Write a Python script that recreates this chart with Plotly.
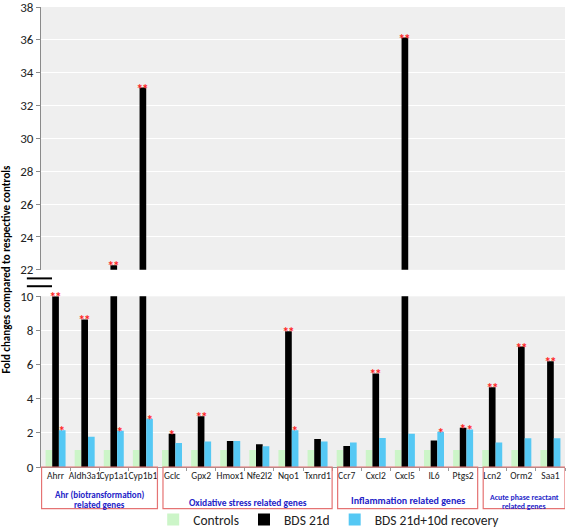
import plotly.graph_objects as go

categories = ["Ahrr", "Aldh3a1", "Cyp1a1", "Cyp1b1", "Gclc", "Gpx2", "Hmox1", "Nfe2l2",
              "Nqo1", "Txnrd1", "Ccr7", "Cxcl2", "Cxcl5", "IL6", "Ptgs2", "Lcn2", "Orm2", "Saa1"]
controls = [1.0, 1.0, 1.0, 1.0, 1.0, 1.0, 1.0, 1.0, 1.0, 1.0, 1.0, 1.0, 1.0, 1.0, 1.0, 1.0, 1.0, 1.0]
bds_21d = [10.0, 8.65, 22.28, 33.1, 1.95, 2.98, 1.52, 1.34, 7.95, 1.64, 1.23, 5.48, 36.14, 1.56, 2.3, 4.68, 7.06, 6.2]
bds_recovery = [2.16, 1.77, 2.12, 2.82, 1.4, 1.5, 1.52, 1.21, 2.16, 1.5, 1.44, 1.7, 1.95, 2.06, 2.2, 1.44, 1.68, 1.68]
sig_21d = ["**", "**", "**", "**", "*", "**", "", "", "**", "", "", "**", "**", "", "*", "**", "**", "**"]
sig_recovery = ["*", "", "*", "*", "", "", "", "", "*", "", "", "", "", "*", "*", "", "", ""]

group_names = [["Ahr (biotransformation)", "related genes"],
               ["Oxidative stress related genes"],
               ["Inflammation related genes"],
               ["Acute phase reactant", "related genes"]]
group_first = [0, 4, 10, 15]
group_last = [3, 9, 14, 17]

series_names = ["Controls", "BDS 21d", "BDS 21d+10d recovery"]
series_values = [controls, bds_21d, bds_recovery]
series_colors = ["#ccf5c8", "#000000", "#55c8f4"]

FONT = "Carlito, Liberation Sans Narrow, Lato"
LOW_MAX = 10
HIGH_MIN, HIGH_MAX = 22, 38

fig = go.Figure()
for name, vals, col in zip(series_names, series_values, series_colors):
    fig.add_trace(go.Bar(x=categories, y=vals, name=name, marker_color=col,
                         marker_line_width=0, legendgroup=name, yaxis="y"))
for name, vals, col in zip(series_names, series_values, series_colors):
    fig.add_trace(go.Bar(x=categories, y=vals, name=name, marker_color=col,
                         marker_line_width=0, legendgroup=name, showlegend=False, yaxis="y2"))

BAR_W = 0.229
STAR_FONT = dict(color="#ff2020", size=13, family="Lato")
annotations = []
for i, (v, s) in enumerate(zip(bds_21d, sig_21d)):
    if not s:
        continue
    if LOW_MAX < v < HIGH_MIN:
        continue
    yref = "y2" if v >= HIGH_MIN else "y"
    annotations.append(dict(x=i, y=v, xref="x", yref=yref, text="<b>" + s + "</b>", showarrow=False,
                            font=STAR_FONT, yanchor="middle", yshift=-1))
for i, (v, s) in enumerate(zip(bds_recovery, sig_recovery)):
    if not s:
        continue
    annotations.append(dict(x=i + BAR_W, y=v, xref="x", yref="y", text="<b>" + s + "</b>", showarrow=False,
                            font=STAR_FONT, yanchor="middle", yshift=-1))

# group boxes and labels
shapes = []
box_bottom = -0.0905
label_sizes = [9, 9.5, 10, 7.8]
label_ys = [[-0.0591, -0.0823], [-0.0786], [-0.073], [-0.0656, -0.0859]]
for k, (names, a, b) in enumerate(zip(group_names, group_first, group_last)):
    x0 = a - 0.48 if k == 0 else a - 0.31
    x1 = b + 0.5
    shapes.append(dict(type="rect", xref="x", yref="paper", x0=x0, x1=x1, y0=box_bottom, y1=0,
                       line=dict(color="#e57373", width=1.2), fillcolor="rgba(0,0,0,0)", layer="above"))
    xc = (x0 + x1) / 2
    for line, yy in zip(names, label_ys[k]):
        annotations.append(dict(x=xc, y=yy, xref="x", yref="paper", text="<b>" + line + "</b>",
                                showarrow=False, yanchor="middle", xanchor="center",
                                font=dict(color="#2424c8", size=label_sizes[k], family=FONT)))

# axis break marks
for yy in [0.41, 0.393]:
    shapes.append(dict(type="line", xref="paper", yref="paper", x0=-0.027, x1=0.021, y0=yy, y1=yy,
                       line=dict(color="black", width=2)))

annotations.append(dict(x=-0.066, y=0.43, xref="paper", yref="paper", xanchor="center", yanchor="middle",
                        text="<b>Fold changes compared to respective controls</b>", textangle=-90,
                        showarrow=False, font=dict(size=11, color="black", family=FONT)))

yaxis_common = dict(dtick=2, gridcolor="#ffffff", gridwidth=1, showline=True, linecolor="#8a8a8a",
                    ticks="outside", ticklen=4, tickcolor="#8a8a8a", zeroline=False, automargin=False,
                    ticklabeloverflow="allow",
                    tickfont=dict(size=13, color="#222", family=FONT))

fig.update_layout(
    width=567, height=528,
    margin=dict(l=41, r=2, t=7, b=61, autoexpand=False),
    paper_bgcolor="white", plot_bgcolor="#efefef",
    barmode="group", bargap=0.313, bargroupgap=0,
    xaxis=dict(type="category", categoryorder="array", categoryarray=categories,
               range=[-0.5, len(categories) - 0.5], tickson="boundaries", ticks="outside",
               ticklen=3, tickcolor="#9a9a9a", showline=True, linecolor="#9a9a9a",
               showgrid=False, anchor="y", tickangle=0, automargin=False,
               tickfont=dict(size=9.5, color="#222", family=FONT)),
    yaxis=dict(domain=[0, 0.371], range=[0, LOW_MAX], anchor="x", **yaxis_common),
    yaxis2=dict(domain=[0.4286, 1], range=[HIGH_MIN, HIGH_MAX], anchor="x", **yaxis_common),
    legend=dict(orientation="h", x=0.55, xanchor="center", y=-0.1147, yanchor="middle",
                font=dict(size=13.5, color="#222", family=FONT), itemwidth=30,
                bgcolor="rgba(0,0,0,0)"),
    shapes=shapes, annotations=annotations, showlegend=True,
)

fig.write_html("out.html", config={"displayModeBar": False},
               post_script="document.body.style.margin='0px';")
